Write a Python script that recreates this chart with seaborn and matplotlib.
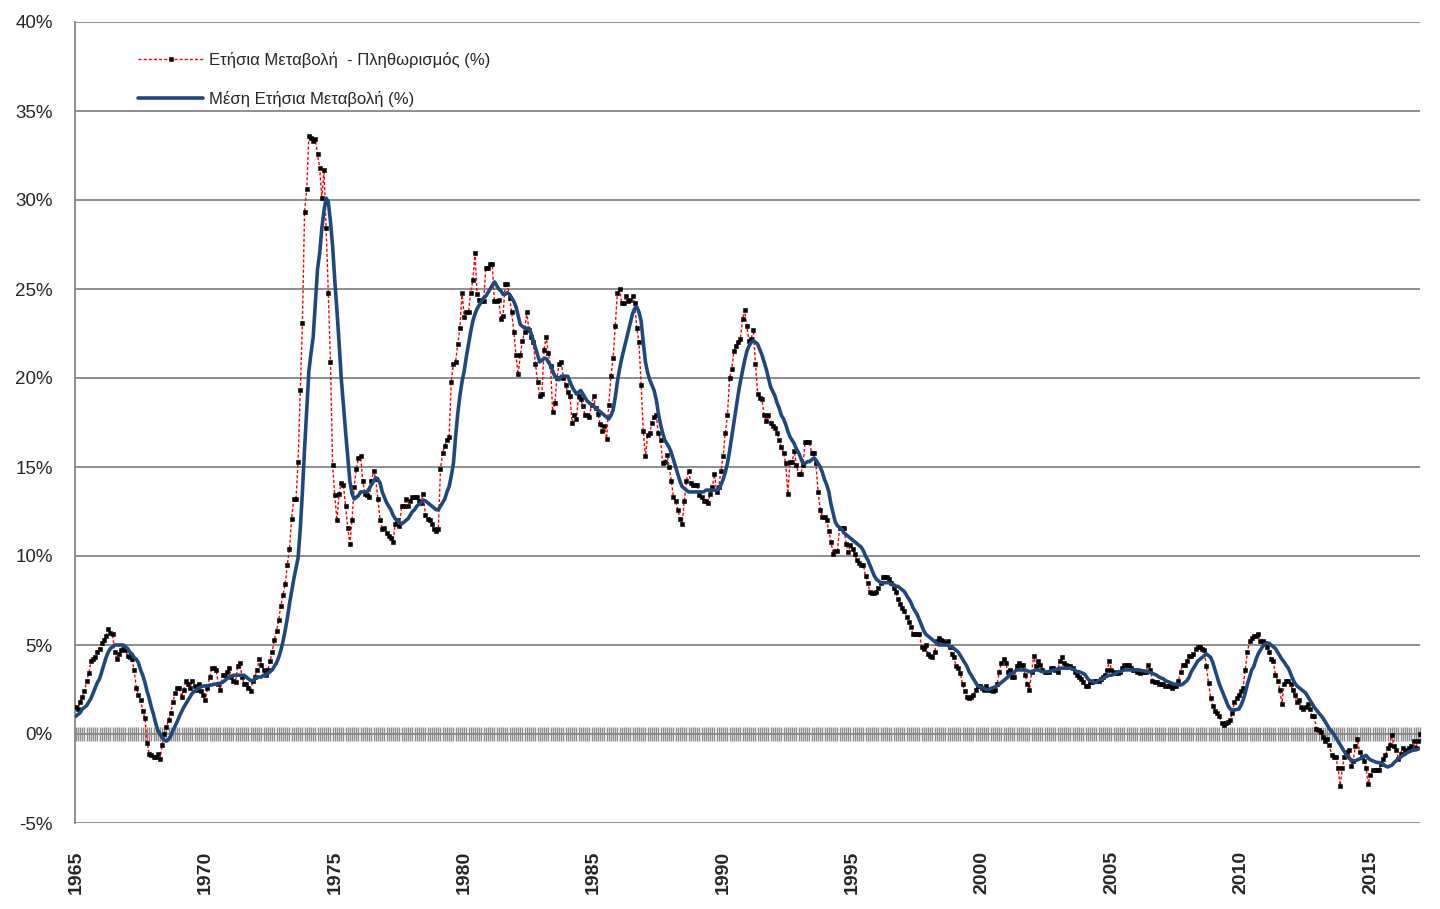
import numpy as np
import pandas as pd
import matplotlib
matplotlib.use("Agg")
import matplotlib.pyplot as plt
import seaborn as sns

# Μηνιαία δεδομένα 1965-01 ... 2016-12 (ένα σημείο ανά μήνα)
first_year = 1965
last_year = 2016

# Ετήσια μεταβολή ΔΤΚ (%) - μία γραμμή ανά έτος
annual_change = [
    1.5, 1.4, 1.8, 2.1, 2.4, 3.0, 3.4, 4.1, 4.2, 4.3, 4.6, 4.8,            # 1965
    5.1, 5.3, 5.5, 5.9, 5.7, 5.6, 4.6, 4.2, 4.5, 4.7, 4.8, 4.7,            # 1966
    4.4, 4.3, 4.2, 3.6, 2.6, 2.2, 1.9, 1.3, 0.9, -0.5, -1.1, -1.2,         # 1967
    -1.3, -1.3, -1.1, -1.4, -0.6, 0.0, 0.4, 0.8, 1.2, 1.8, 2.3, 2.6,       # 1968
    2.6, 2.1, 2.5, 3.0, 2.8, 2.6, 3.0, 2.7, 2.5, 2.8, 2.4, 2.2,            # 1969
    1.9, 2.6, 3.2, 3.7, 3.7, 3.6, 2.8, 2.5, 3.3, 3.3, 3.5, 3.7,            # 1970
    3.2, 3.0, 2.9, 3.8, 4.0, 3.2, 2.8, 2.8, 2.6, 2.4, 3.0, 3.2,            # 1971
    3.6, 4.2, 3.9, 3.6, 3.3, 3.6, 4.1, 4.6, 5.3, 5.8, 6.4, 7.2,            # 1972
    7.8, 8.4, 9.5, 10.4, 12.1, 13.2, 13.2, 15.3, 19.3, 23.1, 29.3, 30.6,   # 1973
    33.6, 33.5, 33.3, 33.4, 32.6, 31.8, 30.1, 31.7, 28.4, 24.8, 20.9, 15.1,  # 1974
    13.4, 12.0, 13.5, 14.1, 14.0, 12.8, 11.6, 10.7, 12.0, 13.9, 14.9, 15.5,  # 1975
    15.6, 14.2, 13.5, 13.4, 13.3, 14.2, 14.8, 14.3, 13.2, 12.0, 11.5, 11.6,  # 1976
    11.3, 11.1, 11.0, 10.8, 11.8, 12.0, 11.7, 12.8, 12.8, 13.2, 12.8, 13.1,  # 1977
    13.3, 13.3, 13.3, 13.1, 13.0, 13.5, 12.3, 12.1, 12.0, 11.8, 11.5, 11.4,  # 1978
    11.5, 14.9, 15.8, 16.2, 16.5, 16.7, 19.8, 20.8, 20.9, 21.9, 22.8, 24.8,  # 1979
    23.4, 23.7, 23.7, 24.8, 25.5, 27.0, 24.7, 24.4, 24.3, 24.3, 26.2, 26.2,  # 1980
    26.4, 26.4, 24.3, 24.3, 24.4, 23.3, 23.5, 25.3, 25.3, 24.5, 23.7, 22.6,  # 1981
    21.3, 20.2, 21.3, 22.1, 22.6, 23.7, 22.7, 22.3, 22.0, 20.8, 19.8, 19.0,  # 1982
    19.1, 21.6, 22.3, 21.4, 20.7, 18.1, 18.6, 20.0, 20.8, 20.9, 20.0, 19.6,  # 1983
    19.2, 19.0, 17.5, 17.9, 17.7, 19.0, 18.8, 18.4, 17.9, 17.9, 17.8, 18.5,  # 1984
    19.0, 18.3, 18.0, 17.4, 17.0, 17.3, 16.6, 18.5, 20.1, 21.1, 22.9, 24.8,  # 1985
    25.0, 24.2, 24.2, 24.6, 24.3, 24.4, 24.6, 24.2, 22.8, 22.0, 19.6, 17.0,  # 1986
    15.6, 16.8, 16.9, 17.5, 17.8, 17.9, 16.9, 16.5, 15.2, 15.3, 15.7, 15.0,  # 1987
    14.2, 13.3, 13.1, 12.6, 12.1, 11.8, 13.1, 14.2, 14.8, 14.1, 14.0, 14.0,  # 1988
    14.0, 13.4, 13.3, 13.1, 13.1, 13.0, 13.5, 13.9, 14.6, 13.6, 13.9, 14.8,  # 1989
    15.6, 16.9, 17.9, 20.0, 20.5, 21.5, 21.8, 22.0, 22.2, 23.3, 23.8, 22.9,  # 1990
    22.1, 22.2, 22.7, 20.8, 19.1, 18.9, 18.8, 17.9, 17.6, 17.9, 17.5, 17.3,  # 1991
    17.2, 16.9, 16.5, 16.1, 15.8, 15.2, 13.5, 15.3, 15.3, 15.9, 15.1, 14.6,  # 1992
    14.6, 15.1, 16.4, 16.4, 16.4, 15.8, 15.8, 15.2, 13.6, 12.6, 12.2, 12.2,  # 1993
    12.0, 11.4, 10.8, 10.1, 10.3, 10.3, 11.6, 11.6, 11.6, 10.7, 10.2, 10.6,  # 1994
    10.4, 10.1, 9.8, 9.6, 9.5, 9.5, 8.9, 8.5, 8.0, 7.9, 7.9, 8.0,          # 1995
    8.2, 8.5, 8.8, 8.8, 8.8, 8.7, 8.5, 8.2, 8.0, 7.6, 7.3, 7.1,            # 1996
    6.9, 6.6, 6.3, 6.0, 5.6, 5.6, 5.6, 5.6, 4.9, 4.8, 5.0, 4.5,            # 1997
    4.4, 4.3, 4.6, 5.2, 5.4, 5.3, 5.2, 5.1, 5.2, 4.9, 4.5, 4.3,            # 1998
    3.8, 3.7, 3.4, 2.8, 2.4, 2.1, 2.0, 2.1, 2.2, 2.5, 2.7, 2.7,            # 1999
    2.6, 2.5, 2.7, 2.5, 2.5, 2.4, 2.5, 2.8, 3.5, 4.0, 4.2, 4.0,            # 2000
    3.5, 3.6, 3.2, 3.2, 3.8, 4.0, 3.9, 3.9, 3.3, 2.8, 2.5, 3.5,            # 2001
    4.4, 3.8, 4.1, 3.9, 3.6, 3.5, 3.5, 3.5, 3.7, 3.7, 3.6, 3.5,            # 2002
    4.1, 4.3, 4.0, 3.9, 3.8, 3.8, 3.7, 3.5, 3.3, 3.2, 3.1, 2.9,            # 2003
    2.7, 2.7, 2.9, 2.9, 3.0, 3.0, 3.0, 3.1, 3.2, 3.3, 3.6, 4.1,            # 2004
    3.6, 3.5, 3.4, 3.4, 3.5, 3.7, 3.9, 3.9, 3.9, 3.7, 3.6, 3.6,            # 2005
    3.5, 3.4, 3.5, 3.5, 3.5, 3.9, 3.6, 3.0, 2.9, 2.9, 2.8, 2.8,            # 2006
    2.8, 2.7, 2.7, 2.7, 2.6, 2.7, 2.7, 3.0, 3.5, 3.9, 3.9, 4.1,            # 2007
    4.4, 4.4, 4.5, 4.8, 4.9, 4.9, 4.8, 4.7, 3.8, 2.85, 2.0, 1.6,           # 2008
    1.3, 1.2, 1.0, 0.6, 0.5, 0.6, 0.7, 0.8, 1.2, 1.8, 2.0, 2.2,            # 2009
    2.4, 2.6, 3.6, 4.6, 5.2, 5.4, 5.5, 5.5, 5.6, 5.2, 5.2, 5.1,            # 2010
    4.9, 4.6, 4.2, 4.1, 3.3, 3.0, 2.5, 1.7, 2.8, 3.0, 3.0, 2.8,            # 2011
    2.5, 2.2, 1.8, 1.9, 1.5, 1.4, 1.5, 1.7, 1.4, 1.0, 1.0, 0.3,            # 2012
    0.2, 0.1, -0.15, -0.4, -0.3, -0.6, -1.2, -1.3, -1.3, -1.9, -2.9, -1.9,  # 2013
    -1.3, -1.0, -0.9, -1.8, -1.5, -0.7, -0.3, -1.0, -1.3, -1.5, -1.9, -2.8,  # 2014
    -2.3, -2.0, -2.0, -2.0, -2.0, -1.7, -1.4, -1.2, -0.8, -0.6, -0.05, -0.7,  # 2015
    -0.9, -1.4, -1.1, -0.8, -0.9, -0.9, -0.8, -0.7, -0.4, -0.8, -0.4, 0.0,  # 2016
]

# Μέση ετήσια μεταβολή (%) - μία γραμμή ανά έτος
average_change = [
    1.0, 1.1, 1.2, 1.4, 1.5, 1.6, 1.8, 2.0, 2.3, 2.6, 2.9, 3.1,            # 1965
    3.5, 3.9, 4.3, 4.6, 4.8, 4.9, 5.0, 5.0, 5.0, 5.0, 5.0, 4.9,            # 1966
    4.8, 4.6, 4.5, 4.3, 4.2, 4.0, 3.6, 3.3, 2.9, 2.4, 2.0, 1.5,            # 1967
    1.1, 0.6, 0.2, 0.0, -0.2, -0.35, -0.4, -0.3, -0.1, 0.2, 0.45, 0.7,     # 1968
    1.0, 1.25, 1.5, 1.7, 1.9, 2.1, 2.3, 2.4, 2.5, 2.6, 2.65, 2.7,          # 1969
    2.7, 2.7, 2.75, 2.75, 2.8, 2.8, 2.8, 2.85, 2.9, 3.0, 3.1, 3.2,         # 1970
    3.25, 3.3, 3.3, 3.3, 3.3, 3.3, 3.3, 3.2, 3.1, 3.0, 3.0, 3.1,           # 1971
    3.2, 3.2, 3.2, 3.3, 3.3, 3.4, 3.5, 3.6, 3.8, 4.0, 4.3, 4.7,            # 1972
    5.2, 5.8, 6.5, 7.3, 8.0, 8.7, 9.3, 9.9, 11.5, 13.6, 16.0, 18.2,        # 1973
    20.4, 21.4, 22.3, 24.2, 26.1, 27.0, 28.4, 29.4, 30.1, 29.9, 28.8, 27.4,  # 1974
    25.5, 23.8, 22.0, 20.0, 18.5, 17.0, 15.6, 14.2, 13.5, 13.2, 13.3, 13.4,  # 1975
    13.6, 13.6, 13.6, 13.6, 13.8, 14.0, 14.2, 14.4, 14.3, 14.1, 13.6, 13.3,  # 1976
    13.0, 12.8, 12.6, 12.3, 12.1, 12.0, 11.9, 11.8, 11.9, 12.0, 12.1, 12.3,  # 1977
    12.5, 12.6, 12.8, 12.9, 13.0, 13.1, 13.1, 13.0, 12.9, 12.8, 12.7, 12.6,  # 1978
    12.6, 12.8, 13.0, 13.2, 13.6, 13.9, 14.5, 15.2, 16.7, 18.0, 19.0, 19.8,  # 1979
    20.4, 21.2, 21.9, 22.6, 23.2, 23.6, 23.9, 24.1, 24.3, 24.5, 24.6, 24.8,  # 1980
    25.0, 25.2, 25.4, 25.2, 25.0, 24.9, 24.7, 24.7, 24.8, 24.7, 24.5, 24.3,  # 1981
    24.0, 23.5, 23.0, 22.9, 22.8, 22.8, 22.8, 22.5, 22.1, 21.7, 21.3, 20.9,  # 1982
    21.0, 21.1, 21.1, 20.9, 20.7, 20.4, 20.1, 20.0, 19.9, 20.1, 20.1, 20.1,  # 1983
    20.1, 19.8, 19.5, 19.3, 19.1, 19.2, 19.3, 19.1, 18.9, 18.7, 18.6, 18.5,  # 1984
    18.4, 18.3, 18.2, 18.1, 18.0, 17.9, 17.8, 17.7, 17.9, 18.2, 18.9, 19.8,  # 1985
    20.5, 21.1, 21.6, 22.1, 22.6, 23.1, 23.6, 23.9, 24.0, 23.7, 23.2, 22.0,  # 1986
    20.9, 20.3, 19.9, 19.6, 19.3, 18.8, 18.0, 17.4, 16.9, 16.5, 16.3, 16.1,  # 1987
    15.8, 15.4, 15.0, 14.6, 14.2, 13.9, 13.8, 13.7, 13.6, 13.6, 13.6, 13.6,  # 1988
    13.6, 13.6, 13.6, 13.6, 13.7, 13.7, 13.7, 13.7, 13.7, 13.7, 13.8, 14.0,  # 1989
    14.3, 14.7, 15.2, 15.9, 16.7, 17.5, 18.3, 19.1, 19.8, 20.4, 21.0, 21.5,  # 1990
    21.8, 22.0, 22.1, 22.0, 21.9, 21.6, 21.3, 20.9, 20.5, 20.0, 19.5, 19.25,  # 1991
    19.0, 18.6, 18.3, 17.9, 17.7, 17.4, 17.0, 16.7, 16.5, 16.3, 16.0, 15.8,  # 1992
    15.5, 15.2, 15.2, 15.3, 15.3, 15.4, 15.5, 15.4, 15.2, 15.0, 14.7, 14.3,  # 1993
    14.0, 13.6, 12.9, 12.4, 11.9, 11.7, 11.6, 11.5, 11.3, 11.2, 11.1, 11.0,  # 1994
    10.9, 10.8, 10.7, 10.6, 10.5, 10.3, 10.0, 9.8, 9.5, 9.2, 8.9, 8.7,     # 1995
    8.6, 8.5, 8.5, 8.5, 8.5, 8.5, 8.4, 8.4, 8.3, 8.3, 8.2, 8.1,            # 1996
    8.0, 7.8, 7.6, 7.4, 7.1, 6.9, 6.7, 6.4, 6.1, 5.8, 5.6, 5.5,            # 1997
    5.4, 5.3, 5.2, 5.1, 5.0, 5.0, 5.0, 5.0, 5.0, 4.9, 4.9, 4.8,            # 1998
    4.7, 4.6, 4.4, 4.2, 4.0, 3.8, 3.5, 3.3, 3.1, 2.9, 2.7, 2.65,           # 1999
    2.6, 2.55, 2.5, 2.5, 2.55, 2.6, 2.65, 2.7, 2.8, 2.9, 3.0, 3.1,         # 2000
    3.2, 3.4, 3.4, 3.5, 3.6, 3.6, 3.6, 3.6, 3.6, 3.55, 3.5, 3.5,           # 2001
    3.55, 3.6, 3.6, 3.55, 3.5, 3.5, 3.5, 3.5, 3.55, 3.6, 3.6, 3.65,        # 2002
    3.7, 3.7, 3.7, 3.7, 3.7, 3.7, 3.65, 3.6, 3.5, 3.5, 3.45, 3.4,          # 2003
    3.3, 3.1, 3.0, 2.95, 2.9, 2.9, 3.0, 3.05, 3.1, 3.2, 3.25, 3.3,         # 2004
    3.3, 3.35, 3.4, 3.5, 3.5, 3.55, 3.6, 3.6, 3.6, 3.6, 3.6, 3.6,          # 2005
    3.6, 3.6, 3.55, 3.55, 3.5, 3.5, 3.45, 3.4, 3.35, 3.3, 3.2, 3.15,       # 2006
    3.1, 3.0, 2.95, 2.9, 2.85, 2.8, 2.8, 2.75, 2.75, 2.8, 2.9, 3.0,        # 2007
    3.2, 3.5, 3.7, 3.9, 4.1, 4.2, 4.3, 4.4, 4.5, 4.4, 4.3, 4.0,            # 2008
    3.6, 3.2, 2.8, 2.5, 2.2, 1.9, 1.6, 1.4, 1.35, 1.35, 1.37, 1.4,         # 2009
    1.6, 1.9, 2.3, 2.8, 3.2, 3.6, 3.8, 4.2, 4.5, 4.7, 4.9, 5.05,           # 2010
    5.1, 5.1, 5.0, 4.9, 4.8, 4.6, 4.4, 4.2, 4.05, 3.85, 3.7, 3.4,          # 2011
    3.1, 2.85, 2.7, 2.6, 2.5, 2.4, 2.3, 2.1, 1.9, 1.7, 1.5, 1.35,          # 2012
    1.2, 1.05, 0.9, 0.7, 0.5, 0.3, 0.15, 0.0, -0.2, -0.4, -0.6, -0.8,      # 2013
    -1.0, -1.2, -1.35, -1.45, -1.5, -1.5, -1.45, -1.4, -1.35, -1.25, -1.2, -1.35,  # 2014
    -1.45, -1.5, -1.55, -1.6, -1.6, -1.65, -1.7, -1.8, -1.85, -1.8, -1.75, -1.6,  # 2015
    -1.5, -1.4, -1.3, -1.2, -1.15, -1.05, -1.0, -0.95, -0.9, -0.9, -0.85, -0.8,  # 2016
]

year_labels = [str(y) for y in range(first_year, last_year + 1, 5)]

label_annual = "Ετήσια Μεταβολή  - Πληθωρισμός (%)"
label_average = "Μέση Ετήσια Μεταβολή (%)"

df = pd.DataFrame({
    "month": np.arange(len(annual_change)),
    "annual": annual_change,
    "average": average_change,
})

sns.set_style("white")
plt.rcParams["font.family"] = ["Liberation Sans", "DejaVu Sans"]

fig = plt.figure(figsize=(14.4, 9.09), dpi=100)
ax = fig.add_axes([75 / 1440, 86 / 909, 1345 / 1440, 801 / 909])

sns.lineplot(data=df, x="month", y="annual", ax=ax, color="#FF0000", lw=1.0,
             linestyle=(0, (2.2, 1.5)), marker="s", markersize=2.8,
             markerfacecolor="black", markeredgecolor="black", markeredgewidth=0.4,
             label=label_annual, zorder=3)
sns.lineplot(data=df, x="month", y="average", ax=ax, color="#1F497D", lw=2.6,
             label=label_average, zorder=4)

# άξονας y
ax.set_ylim(-5, 40)
yt = np.arange(-5, 41, 5)
ax.set_yticks(yt)
ax.set_yticklabels([f"{v}%" for v in yt])
ax.tick_params(axis="y", left=False, length=0, pad=16, labelsize=13.5)
ax.grid(axis="y", color="#868686", lw=1.3)
ax.set_axisbelow(True)

for s in ["top", "right"]:
    ax.spines[s].set_visible(False)
ax.spines["left"].set_color("#868686")
ax.spines["left"].set_linewidth(1.3)
ax.spines["bottom"].set_position(("data", 0))
ax.spines["bottom"].set_color("#909090")

# μηνιαίες υποδιαιρέσεις στο 0%
ax.set_xlim(-0.4, len(df) - 1)
ax.set_xticks(df["month"])
ax.tick_params(axis="x", bottom=True, direction="inout", length=10, width=1.0,
               color="#8c8c8c", labelbottom=False)
ax.set_xlabel("")
ax.set_ylabel("")

# ετικέτες ετών στο κάτω μέρος
sec = ax.secondary_xaxis("bottom")
sec.set_xticks([12 * (int(y) - first_year) for y in year_labels], labels=year_labels)
sec.tick_params(bottom=False, length=0, pad=20, labelsize=14, labelrotation=90)
for t in sec.get_xticklabels():
    t.set_fontweight("bold")
sec.spines["bottom"].set_visible(False)

ax.legend(loc="upper left", bbox_to_anchor=(0.047, 0.963), frameon=False,
          fontsize=12.0, handlelength=3.9, handletextpad=0.35, labelspacing=1.4,
          borderpad=0, borderaxespad=0, numpoints=1)

fig.savefig("out.png", dpi=100)
